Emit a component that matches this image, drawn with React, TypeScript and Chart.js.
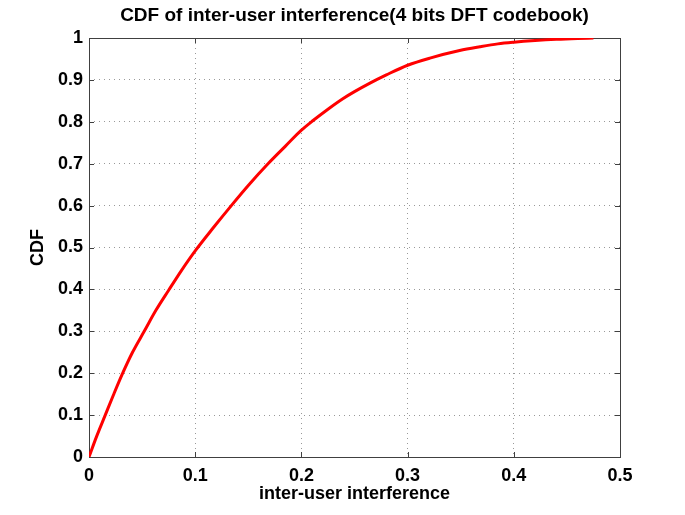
import React, { useEffect, useRef } from "react";
import { Chart, registerables } from "chart.js";

Chart.register(...registerables);

const interference = [
  0, 0.007, 0.015, 0.023, 0.031, 0.041, 0.052, 0.063, 0.075, 0.087, 0.1,
  0.117, 0.134, 0.151, 0.169, 0.185, 0.2, 0.211, 0.225, 0.239, 0.25, 0.265,
  0.28, 0.3, 0.321, 0.349, 0.368, 0.385, 0.4, 0.42, 0.44, 0.46, 0.475,
];
const cdf = [
  0, 0.048, 0.098, 0.148, 0.196, 0.25, 0.3, 0.35, 0.398, 0.445, 0.492, 0.547,
  0.6, 0.651, 0.701, 0.742, 0.78, 0.803, 0.83, 0.855, 0.872, 0.893, 0.912,
  0.935, 0.952, 0.97, 0.979, 0.986, 0.99, 0.994, 0.997, 0.999, 1.0,
];
const xTicks = [0, 0.1, 0.2, 0.3, 0.4, 0.5];
const yTicks = [0, 0.1, 0.2, 0.3, 0.4, 0.5, 0.6, 0.7, 0.8, 0.9, 1];
const titleText = "CDF of inter-user interference(4 bits DFT codebook)";

const FONT = "'Liberation Sans', Arial, Helvetica, sans-serif";

const framePlugin = {
  id: "frame",
  beforeDatasetsDraw(chart: any) {
    const { ctx, chartArea: a, scales } = chart;
    const x = scales.x;
    const y = scales.y;
    ctx.save();
    ctx.strokeStyle = "#404040";
    ctx.lineWidth = 1;
    ctx.setLineDash([]);
    ctx.beginPath();
    const L = 5;
    xTicks.forEach((v) => {
      const px = Math.round(x.getPixelForValue(v)) + 0.5;
      ctx.moveTo(px, a.bottom);
      ctx.lineTo(px, a.bottom - L);
      ctx.moveTo(px, a.top);
      ctx.lineTo(px, a.top + L);
    });
    yTicks.forEach((v) => {
      const py = Math.round(y.getPixelForValue(v)) + 0.5;
      ctx.moveTo(a.left, py);
      ctx.lineTo(a.left + L, py);
      ctx.moveTo(a.right, py);
      ctx.lineTo(a.right - L, py);
    });
    ctx.stroke();
    ctx.strokeRect(
      Math.round(a.left) + 0.5,
      Math.round(a.top) + 0.5,
      Math.round(a.right - a.left),
      Math.round(a.bottom - a.top)
    );
    ctx.fillStyle = "#000";
    ctx.font = `bold 19px ${FONT}`;
    ctx.textAlign = "center";
    ctx.textBaseline = "middle";
    ctx.fillText(titleText, (a.left + a.right) / 2, 16);
    ctx.restore();
  },
};

const fmt = (v: any) => String(Number(Number(v).toFixed(1)));

export default function App() {
  const ref = useRef<HTMLCanvasElement | null>(null);
  useEffect(() => {
    if (!ref.current) return;
    const chart = new Chart(ref.current, {
      type: "line",
      data: {
        datasets: [
          {
            data: interference.map((v, i) => ({ x: v, y: cdf[i] })),
            borderColor: "#ff0000",
            borderWidth: 3,
            pointRadius: 0,
            cubicInterpolationMode: "monotone",
            fill: false,
          },
        ],
      },
      options: {
        animation: false,
        responsive: true,
        maintainAspectRatio: false,
        layout: { padding: { left: 0, right: 65, top: 38, bottom: 0 } },
        plugins: {
          legend: { display: false },
          tooltip: { enabled: false },
          title: { display: false },
        },
        scales: {
          x: {
            type: "linear",
            min: 0,
            max: 0.5,
            afterBuildTicks: (s: any) => {
              s.ticks = xTicks.map((v) => ({ value: v }));
            },
            afterFit: (s: any) => {
              s.height = 58;
            },
            grid: { color: "#999", lineWidth: 1, drawTicks: false },
            border: { display: false, dash: [1, 4] },
            ticks: {
              color: "#000",
              padding: 8,
              maxRotation: 0,
              font: { family: FONT, size: 18, weight: "bold" },
              callback: (v: any) => fmt(v),
            },
            title: {
              display: true,
              text: "inter-user interference",
              color: "#000",
              font: { family: FONT, size: 18, weight: "bold" },
              padding: { top: 0, bottom: 10 },
            },
          },
          y: {
            type: "linear",
            min: 0,
            max: 1,
            afterBuildTicks: (s: any) => {
              s.ticks = yTicks.map((v) => ({ value: v }));
            },
            afterFit: (s: any) => {
              s.width = 89;
            },
            grid: { color: "#999", lineWidth: 1, drawTicks: false },
            border: { display: false, dash: [1, 4] },
            ticks: {
              color: "#000",
              padding: 6,
              font: { family: FONT, size: 18, weight: "bold" },
              callback: (v: any) => fmt(v),
            },
            title: {
              display: true,
              text: "CDF",
              color: "#000",
              font: { family: FONT, size: 18, weight: "bold" },
              padding: { top: 27, bottom: 0 },
            },
          },
        },
      },
      plugins: [framePlugin],
    });
    return () => chart.destroy();
  }, []);
  return (
    <div
      style={{
        position: "fixed",
        left: 0,
        top: 0,
        width: 685,
        height: 515,
        background: "#fff",
      }}
    >
      <canvas ref={ref} />
    </div>
  );
}
